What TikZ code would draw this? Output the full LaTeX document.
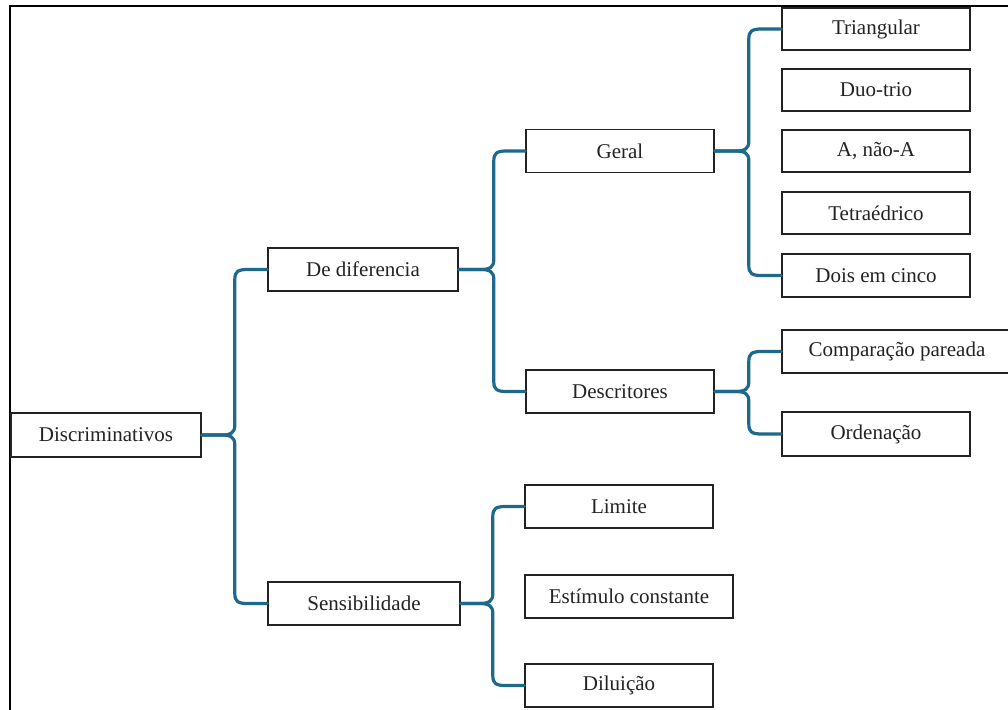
\documentclass[tikz,border=0pt]{standalone}
\usepackage{fontspec}
\setmainfont{Liberation Serif}
\usetikzlibrary{calc}
\definecolor{linkblue}{RGB}{30,104,140}
\definecolor{ink}{RGB}{35,35,35}

% brace-shaped connector: parent east -> vertical trunk at +#3 -> child west
\newcommand\bracelink[3]{%
  \draw[conn] let \p1=(#1.east), \p2=(#2.west), \n1={sign(\y2-\y1)} in
    (\p1) -- ({\x1+#3-14pt},\y1)
    .. controls ({\x1+#3-4pt},\y1) and ({\x1+#3},{\y1+\n1*2pt}) .. ({\x1+#3},{\y1+\n1*10pt})
    -- ({\x1+#3},{\y2-\n1*10pt})
    .. controls ({\x1+#3},{\y2-\n1*2pt}) and ({\x1+#3+3pt},\y2) .. ({\x1+#3+13pt},\y2)
    -- (\p2);
}

\begin{document}
\begin{tikzpicture}[x=1pt,y=-1pt,
  box/.style={draw=ink, line width=1.6pt, fill=white, inner sep=0pt,
    minimum width=188pt, minimum height=43pt, text=ink,
    font=\fontsize{21}{24}\selectfont},
  conn/.style={draw=linkblue, line width=3.2pt, line cap=round, line join=round},
  frame/.style={draw=black, line width=1.6pt}]
\useasboundingbox (0,0) rectangle (1008,709);

% page frame (left and top edges)
\draw[frame] (10,712) -- (10,6) -- (1012,6);

% first level
\node[box, minimum width=190pt, minimum height=44pt] (disc) at (106,435) {Discriminativos};

% second level
\node[box, minimum width=190pt] (dif) at (363,269.5) {De diferencia};
\node[box, minimum width=192pt] (sens) at (364,603.5) {Sensibilidade};

% third level
\node[box] (geral) at (620,151) {Geral};
\node[box] (descr) at (620,391.5) {Descritores};
\node[box] (lim) at (619,506.5) {Limite};
\node[box, minimum width=208pt] (estim) at (629,596.5) {Estímulo constante};
\node[box] (dil) at (619,685.5) {Diluição};

% fourth level
\node[box, minimum height=42pt] (tri) at (876,29) {Triangular};
\node[box, minimum height=42pt] (duo) at (876,90) {Duo-trio};
\node[box, minimum height=42pt] (ana) at (876,151) {A, não-A};
\node[box, minimum height=42pt] (tetra) at (876,213) {Tetraédrico};
\node[box] (dois) at (876,275.5) {Dois em cinco};
\node[box, minimum width=230pt] (comp) at (897,351.5) {Comparação pareada};
\node[box, minimum height=44pt] (orden) at (876,434) {Ordenação};

% connectors
\bracelink{disc}{dif}{33pt}
\bracelink{disc}{sens}{33pt}
\bracelink{dif}{geral}{35pt}
\bracelink{dif}{descr}{35pt}
\bracelink{sens}{lim}{32pt}
\bracelink{sens}{dil}{32pt}
\bracelink{geral}{tri}{34pt}
\bracelink{geral}{dois}{34pt}
\bracelink{descr}{comp}{34pt}
\bracelink{descr}{orden}{34pt}
\end{tikzpicture}
\end{document}
